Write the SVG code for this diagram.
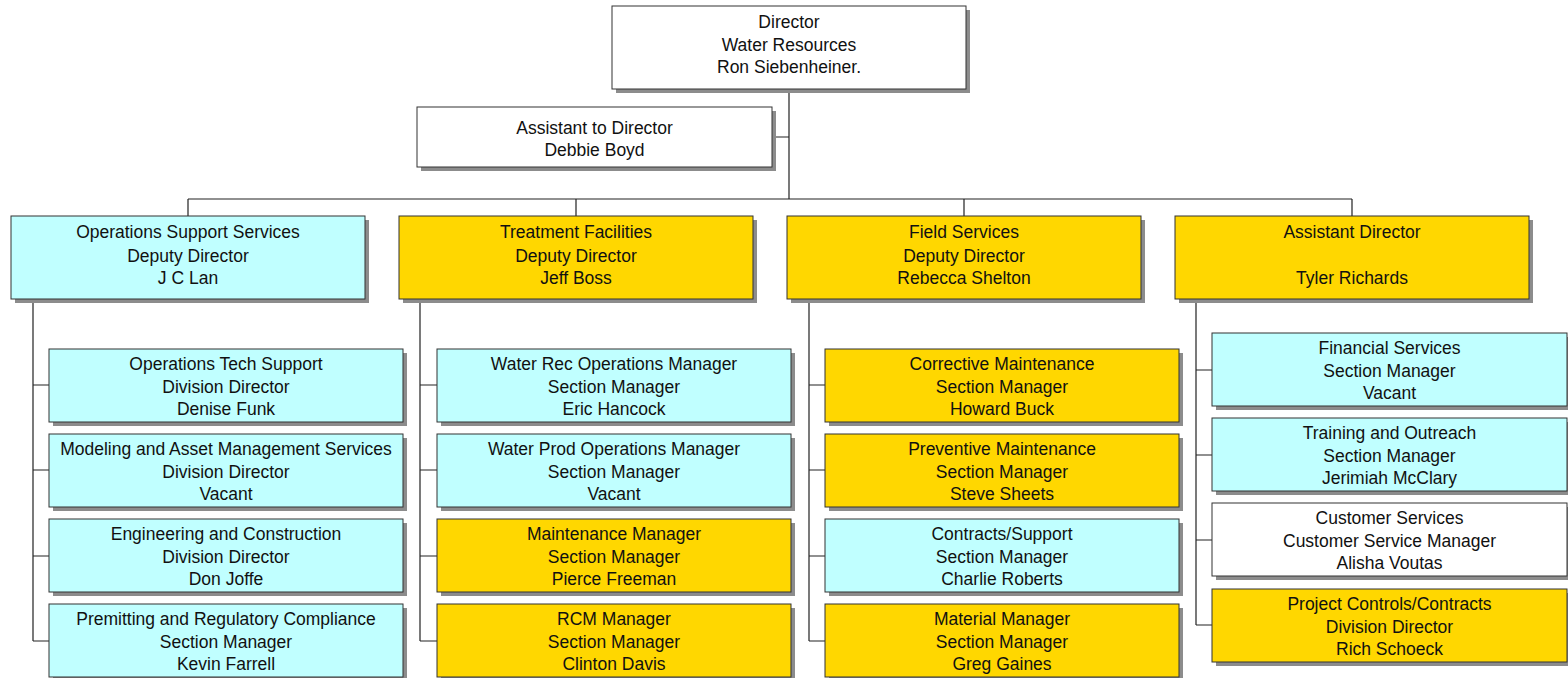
<svg xmlns="http://www.w3.org/2000/svg" width="1568" height="678" viewBox="0 0 1568 678">
<style>
.sh{fill:#8c8c8c}
.bx{stroke:#333;stroke-width:1}
.c{fill:#c0ffff}
.y{fill:#ffd700}
.w{fill:#ffffff}
text{font-family:"Liberation Sans",Arial,sans-serif;font-size:17.5px;fill:#111;text-anchor:middle}
.ln{stroke:#222;stroke-width:1.2;fill:none}
</style>
<rect width="1568" height="678" fill="#fff"/>
<g id="connectors">
<path class="ln" d="M789,89V199M772,137H789M188,199H1352M188,199V216M576,199V216M964,199V216M1352,199V216"/>
<path class="ln" d="M33,299V641M33,385H49M33,470H49M33,556H49M33,641H49"/>
<path class="ln" d="M420,299V641M420,385H437M420,470H437M420,556H437M420,641H437"/>
<path class="ln" d="M809,299V641M809,385H825M809,470H825M809,556H825M809,641H825"/>
<path class="ln" d="M1196,299V625M1196,370H1212M1196,455H1212M1196,540H1212M1196,625H1212"/>
</g>
<g id="director"><rect class="sh" x="616" y="10" width="354" height="83"/><rect class="bx w" x="612" y="6" width="354" height="83"/><text x="789" y="28">Director</text><text x="789" y="51">Water Resources</text><text x="789" y="73">Ron Siebenheiner.</text></g>
<g id="asst-to-director"><rect class="sh" x="421" y="111" width="355" height="60"/><rect class="bx w" x="417" y="107" width="355" height="60"/><text x="594.5" y="134">Assistant to Director</text><text x="594.5" y="156">Debbie Boyd</text></g>

<g id="ops-support"><rect class="sh" x="15" y="220" width="354" height="83"/><rect class="bx c" x="11" y="216" width="354" height="83"/><text x="188" y="238">Operations Support Services</text><text x="188" y="262">Deputy Director</text><text x="188" y="284">J C Lan</text></g>
<g id="treatment"><rect class="sh" x="403" y="220" width="354" height="83"/><rect class="bx y" x="399" y="216" width="354" height="83"/><text x="576" y="238">Treatment Facilities</text><text x="576" y="262">Deputy Director</text><text x="576" y="284">Jeff Boss</text></g>
<g id="field"><rect class="sh" x="791" y="220" width="354" height="83"/><rect class="bx y" x="787" y="216" width="354" height="83"/><text x="964" y="238">Field Services</text><text x="964" y="262">Deputy Director</text><text x="964" y="284">Rebecca Shelton</text></g>
<g id="asst-director"><rect class="sh" x="1179" y="220" width="354" height="83"/><rect class="bx y" x="1175" y="216" width="354" height="83"/><text x="1352" y="238">Assistant Director</text><text x="1352" y="284">Tyler Richards</text></g>

<g id="ops-tech"><rect class="sh" x="53" y="353" width="354" height="73"/><rect class="bx c" x="49" y="349" width="354" height="73"/><text x="226" y="370">Operations Tech Support</text><text x="226" y="393">Division Director</text><text x="226" y="415">Denise Funk</text></g>
<g id="modeling"><rect class="sh" x="53" y="438" width="354" height="73"/><rect class="bx c" x="49" y="434" width="354" height="73"/><text x="226" y="455">Modeling and Asset Management Services</text><text x="226" y="478">Division Director</text><text x="226" y="500">Vacant</text></g>
<g id="engineering"><rect class="sh" x="53" y="523" width="354" height="73"/><rect class="bx c" x="49" y="519" width="354" height="73"/><text x="226" y="540">Engineering and Construction</text><text x="226" y="563">Division Director</text><text x="226" y="585">Don Joffe</text></g>
<g id="permitting"><rect class="sh" x="53" y="608" width="354" height="73"/><rect class="bx c" x="49" y="604" width="354" height="73"/><text x="226" y="625">Premitting and Regulatory Compliance</text><text x="226" y="648">Section Manager</text><text x="226" y="670">Kevin Farrell</text></g>

<g id="water-rec"><rect class="sh" x="441" y="353" width="354" height="73"/><rect class="bx c" x="437" y="349" width="354" height="73"/><text x="614" y="370">Water Rec Operations Manager</text><text x="614" y="393">Section Manager</text><text x="614" y="415">Eric Hancock</text></g>
<g id="water-prod"><rect class="sh" x="441" y="438" width="354" height="73"/><rect class="bx c" x="437" y="434" width="354" height="73"/><text x="614" y="455">Water Prod Operations Manager</text><text x="614" y="478">Section Manager</text><text x="614" y="500">Vacant</text></g>
<g id="maintenance"><rect class="sh" x="441" y="523" width="354" height="73"/><rect class="bx y" x="437" y="519" width="354" height="73"/><text x="614" y="540">Maintenance Manager</text><text x="614" y="563">Section Manager</text><text x="614" y="585">Pierce Freeman</text></g>
<g id="rcm"><rect class="sh" x="441" y="608" width="354" height="73"/><rect class="bx y" x="437" y="604" width="354" height="73"/><text x="614" y="625">RCM Manager</text><text x="614" y="648">Section Manager</text><text x="614" y="670">Clinton Davis</text></g>

<g id="corrective"><rect class="sh" x="829" y="353" width="354" height="73"/><rect class="bx y" x="825" y="349" width="354" height="73"/><text x="1002" y="370">Corrective Maintenance</text><text x="1002" y="393">Section Manager</text><text x="1002" y="415">Howard Buck</text></g>
<g id="preventive"><rect class="sh" x="829" y="438" width="354" height="73"/><rect class="bx y" x="825" y="434" width="354" height="73"/><text x="1002" y="455">Preventive Maintenance</text><text x="1002" y="478">Section Manager</text><text x="1002" y="500">Steve Sheets</text></g>
<g id="contracts"><rect class="sh" x="829" y="523" width="354" height="73"/><rect class="bx c" x="825" y="519" width="354" height="73"/><text x="1002" y="540">Contracts/Support</text><text x="1002" y="563">Section Manager</text><text x="1002" y="585">Charlie Roberts</text></g>
<g id="material"><rect class="sh" x="829" y="608" width="354" height="73"/><rect class="bx y" x="825" y="604" width="354" height="73"/><text x="1002" y="625">Material Manager</text><text x="1002" y="648">Section Manager</text><text x="1002" y="670">Greg Gaines</text></g>

<g id="financial"><rect class="sh" x="1216" y="337" width="355" height="73"/><rect class="bx c" x="1212" y="333" width="355" height="73"/><text x="1389.5" y="354">Financial Services</text><text x="1389.5" y="377">Section Manager</text><text x="1389.5" y="399">Vacant</text></g>
<g id="training"><rect class="sh" x="1216" y="422" width="355" height="73"/><rect class="bx c" x="1212" y="418" width="355" height="73"/><text x="1389.5" y="439">Training and Outreach</text><text x="1389.5" y="462">Section Manager</text><text x="1389.5" y="484">Jerimiah McClary</text></g>
<g id="customer"><rect class="sh" x="1216" y="507" width="355" height="73"/><rect class="bx w" x="1212" y="503" width="355" height="73"/><text x="1389.5" y="524">Customer Services</text><text x="1389.5" y="547">Customer Service Manager</text><text x="1389.5" y="569">Alisha Voutas</text></g>
<g id="project-controls"><rect class="sh" x="1216" y="593" width="355" height="73"/><rect class="bx y" x="1212" y="589" width="355" height="73"/><text x="1389.5" y="610">Project Controls/Contracts</text><text x="1389.5" y="633">Division Director</text><text x="1389.5" y="655">Rich Schoeck</text></g>
</svg>
